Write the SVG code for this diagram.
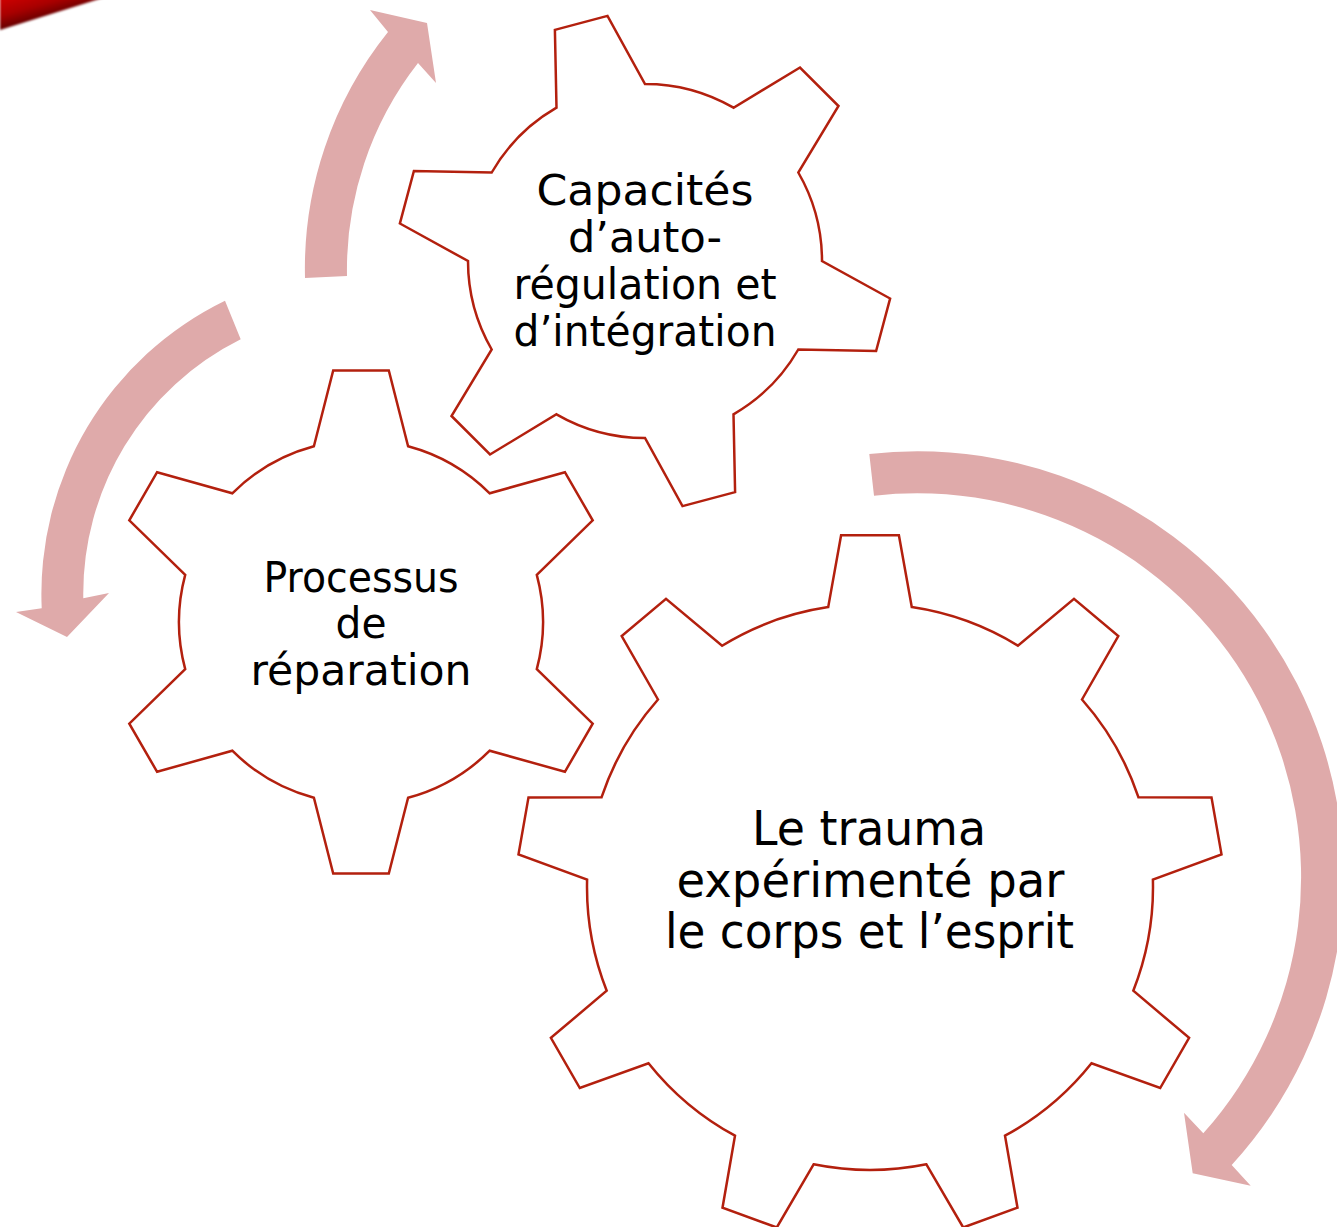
<svg xmlns="http://www.w3.org/2000/svg" width="1337" height="1227" viewBox="0 0 1337 1227">
<style>
.gear{fill:#ffffff;stroke:#b3200e;stroke-width:2.5;stroke-linejoin:miter}
.arrow{fill:#dfaaaa;stroke:none}
.lbl{font-family:"Century Gothic","DejaVu Sans",sans-serif;font-size:43.5px;fill:#000;text-anchor:middle}
.lbl-big{font-size:48px}
</style>
<defs>
<linearGradient id="cornerGrad" gradientUnits="userSpaceOnUse" x1="0" y1="0" x2="7.3" y2="27">
<stop offset="0" stop-color="#cc0000"/>
<stop offset="0.55" stop-color="#a80000"/>
<stop offset="1" stop-color="#6a0000"/>
</linearGradient>
<filter id="soft" x="-20%" y="-50%" width="140%" height="200%">
<feGaussianBlur stdDeviation="0.9"/>
</filter>
</defs>
<rect x="0" y="0" width="1337" height="1227" fill="#ffffff"/>
<polygon points="0,-5 112,-5 0,30" fill="url(#cornerGrad)" filter="url(#soft)"/>

<g id="connectors">
<path id="arrow-up" class="arrow" d="M305,278 A378,378 0 0 1 388,32 L370,10 L427,23 L436,83 L418,63 A336,336 0 0 0 347,276 Z"/>
<path id="arrow-left" class="arrow" d="M225,300.7 A326,326 0 0 0 41.7,608.3 L16,612 L67,637 L109,593 L83.3,598.3 A284,284 0 0 1 240.7,339.3 Z"/>
<path id="arrow-right" class="arrow" d="M869.3,454 A426,426 0 0 1 1231.7,1165 L1250.7,1185.7 L1192.7,1173.3 L1184,1112.7 L1203.3,1133.3 A384,384 0 0 0 874,495.7 Z"/>
</g>

<g id="gear-capacites">
<path class="gear" d="M556.5,107.7 L554.9,29.9 L607.5,15.9 L645,84 A177,177 0 0 1 733.5,107.7 L800,67.5 L838.5,106 L798.3,172.5 A177,177 0 0 1 822,261 L890.1,298.5 L876.1,351.1 L798.3,349.5 A177,177 0 0 1 733.5,414.3 L735.1,492.1 L682.5,506.1 L645,438 A177,177 0 0 1 556.5,414.3 L490,454.5 L451.5,416 L491.7,349.5 A177,177 0 0 1 468,261 L399.9,223.5 L413.9,170.9 L491.7,172.5 A177,177 0 0 1 556.5,107.7 Z"/>
<text class="lbl" x="645" y="205" textLength="217" lengthAdjust="spacingAndGlyphs">Capacités</text>
<text class="lbl" x="645" y="252" textLength="154" lengthAdjust="spacingAndGlyphs">d’auto-</text>
<text class="lbl" x="645" y="298.5" textLength="263" lengthAdjust="spacingAndGlyphs">régulation et</text>
<text class="lbl" x="645" y="345.5" textLength="263" lengthAdjust="spacingAndGlyphs">d’intégration</text>
</g>

<g id="gear-processus">
<path class="gear" d="M313.9,446.2 L333.2,370.5 L388.8,370.5 L408.1,446.2 A182,182 0 0 1 489.7,493.3 L564.9,472.2 L592.7,520.3 L536.8,574.9 A182,182 0 0 1 536.8,669.1 L592.7,723.7 L564.9,771.8 L489.7,750.7 A182,182 0 0 1 408.1,797.8 L388.8,873.5 L333.2,873.5 L313.9,797.8 A182,182 0 0 1 232.3,750.7 L157.1,771.8 L129.3,723.7 L185.2,669.1 A182,182 0 0 1 185.2,574.9 L129.3,520.3 L157.1,472.2 L232.3,493.3 A182,182 0 0 1 313.9,446.2 Z"/>
<text class="lbl" x="361" y="591.7" textLength="195" lengthAdjust="spacingAndGlyphs">Processus</text>
<text class="lbl" x="361" y="638.3" textLength="51" lengthAdjust="spacingAndGlyphs">de</text>
<text class="lbl" x="361" y="685" textLength="221" lengthAdjust="spacingAndGlyphs">réparation</text>
</g>

<g id="gear-trauma">
<path class="gear" d="M828.2,607.1 L841.1,535.2 L898.9,535.2 L911.8,607.1 A283,283 0 0 1 1017.9,645.7 L1074,598.9 L1118.3,636.1 L1082,699.5 A283,283 0 0 1 1138.4,797.2 L1211.5,797.4 L1221.5,854.4 L1152.9,879.6 A283,283 0 0 1 1133.3,990.7 L1189.1,1037.9 L1160.2,1088 L1091.5,1063.2 A283,283 0 0 1 1005,1135.7 L1017.5,1207.7 L963.2,1227.5 L926.4,1164.3 A283,283 0 0 1 813.6,1164.3 L776.8,1227.5 L722.5,1207.7 L735,1135.7 A283,283 0 0 1 648.5,1063.2 L579.8,1088 L550.9,1037.9 L606.7,990.7 A283,283 0 0 1 587.1,879.6 L518.5,854.4 L528.5,797.4 L601.6,797.2 A283,283 0 0 1 658,699.5 L621.7,636.1 L666,598.9 L722.1,645.7 A283,283 0 0 1 828.2,607.1 Z"/>
<text class="lbl lbl-big" x="869" y="845" textLength="234" lengthAdjust="spacingAndGlyphs">Le trauma</text>
<text class="lbl lbl-big" x="870.5" y="896.7" textLength="388" lengthAdjust="spacingAndGlyphs">expérimenté par</text>
<text class="lbl lbl-big" x="869.5" y="948.3" textLength="409" lengthAdjust="spacingAndGlyphs">le corps et l’esprit</text>
</g>
</svg>
